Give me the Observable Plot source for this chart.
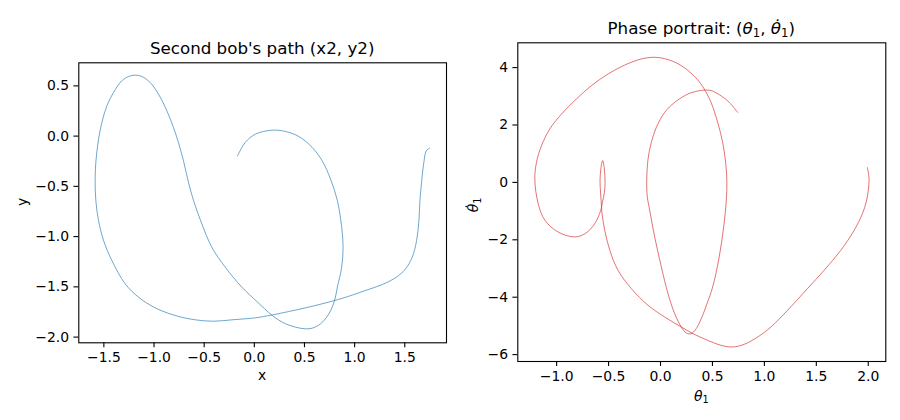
<!DOCTYPE html>
<html><head><meta charset="utf-8">
<script src="https://cdn.jsdelivr.net/npm/d3@7"></script>
<script src="https://cdn.jsdelivr.net/npm/@observablehq/plot@0.6"></script>
<style>
body{margin:0;background:#fff;}
#fig{position:relative;width:900px;height:420px;font-family:"DejaVu Sans",sans-serif;color:#000;overflow:hidden;background:#fff}
#fig svg{position:absolute;top:0}
.t{position:absolute;transform:translate(-50%,-50%);line-height:1;white-space:nowrap}
.title{font-size:16.7px}
.lab{font-size:13.9px}
.rot{transform:translate(-50%,-50%) rotate(-90deg)}
.sb{font-size:0.7em;position:relative;top:0.28em}
</style></head><body>
<div id="fig"></div>
<script>
// Second bob's path (x2, y2)
const bobX=[1.747,1.714,1.690,1.667,1.651,1.641,1.618,1.574,1.508,1.408,1.275,1.109,0.943,0.800,0.511,0.179,0.012,-0.224,-0.407,-0.589,-0.789,-0.988,-1.154,-1.287,-1.420,-1.503,-1.553,-1.580,-1.587,-1.580,-1.553,-1.520,-1.470,-1.404,-1.321,-1.254,-1.194,-1.121,-1.038,-0.955,-0.872,-0.806,-0.756,-0.706,-0.656,-0.606,-0.523,-0.424,-0.290,-0.124,0.030,0.172,0.279,0.411,0.511,0.577,0.660,0.743,0.800,0.828,0.871,0.885,0.871,0.828,0.760,0.677,0.577,0.444,0.311,0.178,0.010,-0.091,-0.167];
const bobY=[-0.120,-0.146,-0.263,-0.462,-0.641,-0.840,-1.040,-1.205,-1.321,-1.410,-1.477,-1.536,-1.593,-1.636,-1.709,-1.779,-1.808,-1.828,-1.842,-1.828,-1.785,-1.709,-1.603,-1.470,-1.238,-1.039,-0.840,-0.641,-0.429,-0.263,-0.031,0.135,0.301,0.434,0.550,0.593,0.606,0.593,0.533,0.417,0.252,0.086,-0.064,-0.246,-0.462,-0.641,-0.873,-1.105,-1.304,-1.503,-1.650,-1.779,-1.852,-1.901,-1.918,-1.911,-1.868,-1.769,-1.636,-1.503,-1.304,-1.105,-0.906,-0.641,-0.429,-0.246,-0.113,-0.004,0.046,0.059,0.019,-0.064,-0.196];
// Phase portrait (theta1, theta1-dot)
const theta1=[1.992,2.008,2.002,1.983,1.944,1.864,1.736,1.575,1.415,1.223,1.063,0.935,0.806,0.694,0.582,0.454,0.313,0.200,0.040,-0.120,-0.281,-0.409,-0.488,-0.537,-0.563,-0.572,-0.580,-0.582,-0.575,-0.565,-0.557,-0.548,-0.538,-0.534,-0.540,-0.560,-0.575,-0.633,-0.720,-0.825,-0.986,-1.113,-1.178,-1.210,-1.194,-1.146,-1.066,-0.954,-0.810,-0.665,-0.505,-0.344,-0.185,-0.056,0.072,0.200,0.320,0.389,0.421,0.486,0.550,0.598,0.630,0.639,0.633,0.608,0.565,0.502,0.450,0.392,0.344,0.296,0.248,0.200,0.136,0.072,0.008,-0.056,-0.104,-0.127,-0.133,-0.120,-0.088,-0.040,0.040,0.137,0.264,0.360,0.406,0.486,0.582,0.662,0.742];
const omega1=[0.516,0.118,-0.230,-0.650,-1.088,-1.669,-2.366,-3.063,-3.700,-4.456,-5.038,-5.387,-5.641,-5.735,-5.676,-5.502,-5.270,-5.038,-4.690,-4.283,-3.700,-3.063,-2.366,-1.669,-1.088,-0.624,-0.200,0.100,0.450,0.680,0.760,0.650,0.350,0.000,-0.350,-0.700,-0.970,-1.436,-1.770,-1.900,-1.728,-1.320,-0.740,0.118,0.700,1.280,1.860,2.380,2.906,3.373,3.777,4.090,4.300,4.359,4.279,4.070,3.720,3.430,3.254,2.791,2.094,1.397,0.585,0.003,-0.650,-1.553,-2.600,-3.645,-4.200,-4.750,-5.094,-5.270,-5.247,-5.038,-4.570,-3.875,-2.947,-1.900,-0.970,-0.500,0.003,0.815,1.397,1.920,2.440,2.790,3.080,3.185,3.210,3.200,3.020,2.790,2.440];
// ticks
const leftXTicks=[-1.5,-1.0,-0.5,0.0,0.5,1.0,1.5];
const leftYTicks=[-2.0,-1.5,-1.0,-0.5,0.0,0.5];
const rightXTicks=[-1.0,-0.5,0.0,0.5,1.0,1.5,2.0];
const rightYTicks=[-6,-4,-2,0,2,4];

const fmt1=d3.format(".1f");
const fmt0=d3.format("d");

function panel(o){
  return Plot.plot({
    width:450,height:420,
    marginLeft:o.m[0],marginRight:o.m[1],marginTop:o.m[2],marginBottom:o.m[3],
    style:{fontFamily:"DejaVu Sans",fontSize:"13.9px",color:"black",background:"transparent",overflow:"visible"},
    x:{domain:o.xd},
    y:{domain:o.yd},
    marks:[
      Plot.line(o.data,{x:"x",y:"y",stroke:o.stroke,strokeWidth:0.65,curve:"catmull-rom"}),
      Plot.frame({stroke:"black",strokeWidth:1.1}),
      Plot.axisX(o.xt,{tickFormat:o.xf,tickSize:4.9,tickPadding:4.6,label:null,strokeWidth:1.1}),
      Plot.axisY(o.yt,{tickFormat:o.yf,tickSize:4.9,tickPadding:4.9,label:null,strokeWidth:1.1})
    ]
  });
}

const leftData=bobX.map((x,i)=>({x,y:bobY[i]}));
const rightData=theta1.map((x,i)=>({x,y:omega1[i]}));

const fig=document.getElementById("fig");
const left=panel({data:leftData,xd:[-1.7498,1.916],yd:[-2.0567,0.7294],xt:leftXTicks,yt:leftYTicks,xf:fmt1,yf:fmt1,stroke:"#1f77b4",m:[78.3,4,62.3,77.7]});
left.style.left="0px";
const right=panel({data:rightData,xd:[-1.374,2.169],yd:[-6.24,4.864],xt:rightXTicks,yt:rightYTicks,xf:fmt1,yf:fmt0,stroke:"#d62728",m:[67.3,14.7,42.3,59]});
right.style.left="450px";
fig.appendChild(left);
fig.appendChild(right);

function addText(html,cls,x,y){
  const d=document.createElement("div");
  d.className="t "+cls;
  d.innerHTML=html;
  d.style.left=x+"px";d.style.top=y+"px";
  fig.appendChild(d);
}
addText("Second bob's path (x2, y2)","title",262.2,48.3);
addText("Phase portrait: (<i>θ</i><span class='sb'>1</span>, <i>θ̇</i><span class='sb'>1</span>)","title",701.3,27.5);
addText("x","lab",262.2,375.5);
addText("y","lab rot",22.5,201.5);
addText("<i>θ</i><span class='sb'>1</span>","lab",701.3,396.5);
addText("<i>θ̇</i><span class='sb'>1</span>","lab rot",474,205);
</script>
</body></html>
